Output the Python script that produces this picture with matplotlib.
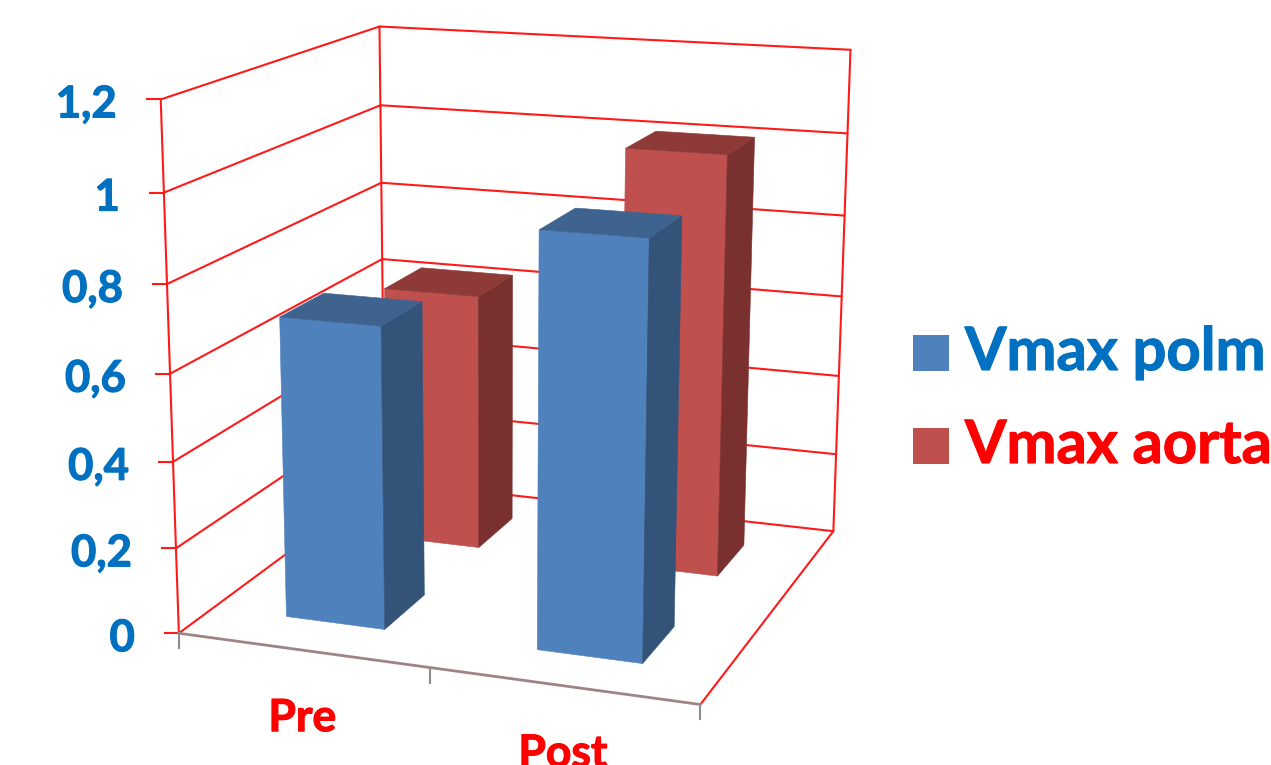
import numpy as np
import matplotlib
matplotlib.use('Agg')
import matplotlib.pyplot as plt
import matplotlib.patheffects as pe

plt.rcParams['font.family'] = ['Lato', 'DejaVu Sans']

categories = ['Pre', 'Post']
series_names = ['Vmax polm', 'Vmax aorta']
vmax_polm = [0.70, 0.94]
vmax_aorta = [0.63, 1.01]
value_ticks = [0, 0.2, 0.4, 0.6, 0.8, 1.0, 1.2]
value_labels = ['0', '0,2', '0,4', '0,6', '0,8', '1', '1,2']

BLUE_TXT = '#0070C0'
RED_TXT = '#FF0000'
GRID = '#FF1A1A'
TICK = '#8C8C8C'
FLOOR_EDGE = '#A08484'
# front, top, side shades of each bar
BLUE = ('#4F81BD', '#3E638F', '#335378')
RED = ('#C0504D', '#8E3A38', '#7A302E')

# (category pos, depth, value) -> pixel pairs for the perspective camera
cam_points = [((0, 0, 0), (179, 632)), ((0, 0, 1.2), (160, 100)), ((0, 1, 0), (384, 482)),
              ((0, 1, 1.2), (380, 26)), ((1, 1, 0), (833, 531)), ((1, 1, 1.2), (850, 50)),
              ((1, 0, 0), (701, 705)), ((0, 0, 0.6), (170, 374)), ((0, 1, 0.6), (383, 259)),
              ((1, 1, 0.6), (842, 296))]

rows = []
for (x, y, z), (px, py) in cam_points:
    rows.append([x, y, z, 1, 0, 0, 0, 0, -px*x, -px*y, -px*z, -px])
    rows.append([0, 0, 0, 0, x, y, z, 1, -py*x, -py*y, -py*z, -py])
P = np.linalg.svd(np.array(rows, float))[2][-1].reshape(3, 4)

# Lato bold is a little light, thicken it with a thin stroke
def heavy(color):
    return [pe.withStroke(linewidth=0.8, foreground=color)]


def proj(u, d, v):
    h = P @ np.array([u, d, v, 1.0])
    return h[0]/h[2], h[1]/h[2]


def line3(a, b, color=GRID, lw=1.5, zorder=1):
    xa, ya = proj(*a)
    xb, yb = proj(*b)
    ax.plot([xa, xb], [ya, yb], color=color, lw=lw, zorder=zorder, solid_capstyle='round')


def face(pts, color, zorder):
    ax.fill(*zip(*[proj(*p) for p in pts]), facecolor=color, edgecolor=color, lw=0.4, zorder=zorder)


def bar3(u, d, v, colors, zorder):
    u0, u1 = u-0.1, u+0.1
    d0, d1 = d-0.1, d+0.1
    face([(u0, d0, 0), (u1, d0, 0), (u1, d0, v), (u0, d0, v)], colors[0], zorder)
    face([(u1, d0, 0), (u1, d1, 0), (u1, d1, v), (u1, d0, v)], colors[2], zorder)
    face([(u0, d0, v), (u1, d0, v), (u1, d1, v), (u0, d1, v)], colors[1], zorder)


fig = plt.figure(figsize=(12.71, 7.65), dpi=100)
ax = fig.add_axes([0, 0, 1, 1])
ax.set_xlim(0, 1271)
ax.set_ylim(765, 0)
ax.axis('off')

# walls
for v, lab in zip(value_ticks, value_labels):
    line3((0, 0, v), (0, 1, v))
    line3((0, 1, v), (1, 1, v))
    x, y = proj(0, 0, v)
    ax.plot([x-14, x], [y, y], color=GRID, lw=1.5, zorder=1)
    ax.text(x-44, y+5, lab, color=BLUE_TXT, fontsize=31.5, fontweight='bold', ha='right', va='center',
            path_effects=heavy(BLUE_TXT))
line3((0, 0, 0), (0, 0, 1.2))
line3((0, 1, 0), (0, 1, 1.2))
line3((1, 1, 0), (1, 1, 1.2))
line3((1, 0, 0), (1, 1, 0))

# category axis along the front of the floor
line3((0, 0, 0), (1, 0, 0), color=FLOOR_EDGE, lw=2, zorder=2)
for u in [0, 0.5, 1]:
    x, y = proj(u, 0, 0)
    ax.plot([x, x], [y, y+15], color=TICK, lw=1.5, zorder=2)

# back row first so the front row hides it
centres = [0.25, 0.75]
for i in range(2):
    bar3(centres[i], 0.75, vmax_aorta[i], RED, 3+i)
for i in range(2):
    bar3(centres[i], 0.25, vmax_polm[i], BLUE, 5+i)

for u, lab in zip(centres, categories):
    x, y = proj(u, 0, 0)
    ax.text(x, y+81, lab, color=RED_TXT, fontsize=32, fontweight='bold', ha='center', va='baseline',
            path_effects=heavy(RED_TXT))

# legend
for y0, name, col, txt in zip([335, 428], series_names, [BLUE[0], RED[0]], [BLUE_TXT, RED_TXT]):
    ax.fill([913, 949, 949, 913], [y0, y0, y0+36, y0+36], color=col, lw=0)
    ax.text(965, y0+35, name, color=txt, fontsize=43, fontweight='bold', ha='left', va='baseline',
            path_effects=heavy(txt))

fig.savefig('out.png', dpi=100)
